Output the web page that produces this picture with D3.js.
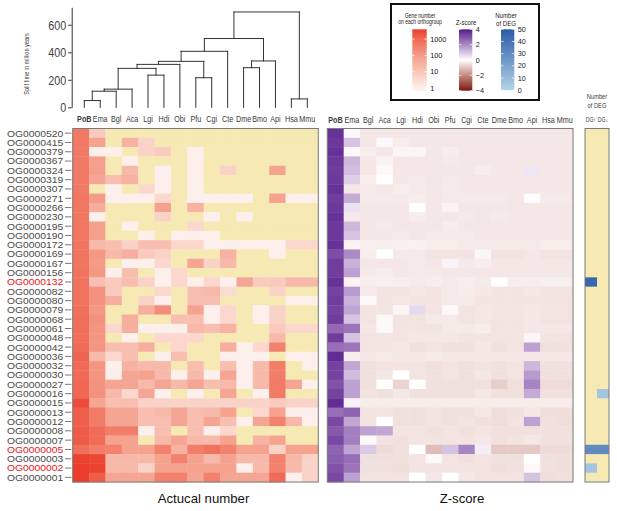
<!DOCTYPE html>
<html>
<head>
<meta charset="utf-8">
<script src="https://d3js.org/d3.v7.min.js"></script>
<style>
  body { margin: 0; background: #fff; }
  text { font-family: "Liberation Sans", Arial, sans-serif; }
</style>
</head>
<body>
<svg id="chart"></svg>
<script>
let w = 617;
let h = 511;

// ---- data ----
let species = ["PoB","Ema","Bgl","Aca","Lgi","Hdi","Obi","Pfu","Cgi","Cte","Dme","Bmo","Api","Hsa","Mmu"];

let orthogroups = ["OG0000520","OG0000415","OG0000379","OG0000367","OG0000324","OG0000319","OG0000307",
  "OG0000271","OG0000266","OG0000230","OG0000195","OG0000190","OG0000172","OG0000169","OG0000167",
  "OG0000156","OG0000132","OG0000082","OG0000080","OG0000079","OG0000068","OG0000061","OG0000048",
  "OG0000042","OG0000036","OG0000032","OG0000030","OG0000027","OG0000016","OG0000015","OG0000013",
  "OG0000012","OG0000008","OG0000007","OG0000005","OG0000003","OG0000002","OG0000001"];

let redGroups = ["OG0000132","OG0000005","OG0000002"];

// gene number per orthogroup (rows) and species (columns), 0 = absent
let geneCounts = [
  [500,8,0,0,0,0,0,0,0,0,0,0,0,0,0],
  [500,70,0,30,5,0,0,0,0,0,0,0,0,0,0],
  [500,1,1,0,5,8,0,1,0,0,0,0,0,0,0],
  [500,80,0,1,0,0,0,1,0,0,0,0,0,0,0],
  [500,80,0,20,0,1,0,1,0,5,0,0,70,0,0],
  [500,60,15,30,0,1,0,1,0,0,0,0,0,0,0],
  [500,0,1,0,4,1,0,1,0,0,0,0,0,0,0],
  [550,100,1,1,1,4,0,1,1,1,1,0,70,1,1],
  [550,40,0,0,0,70,0,30,0,0,0,0,0,0,0],
  [550,1,0,0,0,5,0,0,1,0,1,0,0,0,0],
  [550,80,0,1,0,0,0,4,0,0,0,0,0,0,0],
  [550,80,0,0,1,0,1,1,1,0,0,0,0,0,0],
  [600,20,15,5,15,15,4,4,1,1,1,1,1,4,4],
  [600,120,20,35,8,5,0,0,0,30,0,0,1,0,0],
  [600,100,0,1,1,4,0,60,5,20,0,0,0,0,0],
  [650,120,1,15,0,1,4,0,0,0,0,0,0,0,0],
  [650,15,8,15,5,1,4,1,4,1,60,8,8,20,20],
  [700,150,8,0,0,4,0,15,20,3,0,0,5,0,0],
  [700,150,35,0,5,1,0,15,15,0,0,0,0,1,1],
  [750,120,0,0,35,200,0,70,1,4,0,1,5,0,0],
  [800,150,0,35,0,0,15,15,1,4,0,1,5,0,0],
  [800,130,4,35,1,1,1,20,15,30,0,0,8,4,4],
  [850,130,0,1,0,4,4,4,0,0,0,0,20,0,0],
  [900,130,15,15,35,0,4,0,0,35,1,4,350,0,0],
  [1200,20,4,15,0,1,15,0,0,1,1,1,0,1,1],
  [1000,130,1,30,20,20,0,15,0,15,1,20,400,0,1],
  [1000,130,1,60,70,20,1,20,1,60,1,20,400,0,0],
  [1100,150,60,60,20,60,20,60,15,20,1,20,450,60,1],
  [1100,150,20,4,60,1,0,1,0,60,0,1,450,0,0],
  [2500,60,15,15,5,5,5,5,5,5,5,5,8,5,5],
  [1400,450,60,60,15,20,60,15,20,70,0,4,70,1,1],
  [1400,450,60,60,15,15,60,15,60,15,1,60,350,20,1],
  [1600,900,400,400,1,15,0,15,1,4,0,0,0,0,0],
  [1600,900,70,70,0,20,60,20,20,70,0,30,70,0,0],
  [800,400,350,70,70,350,30,400,700,350,70,70,5,70,70],
  [3500,3000,20,20,20,70,350,70,20,70,20,20,350,20,5],
  [4000,3500,20,20,5,70,70,70,70,70,1,20,350,20,5],
  [4000,1500,60,60,60,350,350,60,350,60,60,60,1000,1,5]
];

// z-score per orthogroup (rows) and species (columns)
let zScores = [
  [3.6,0.1,-0.4,-0.4,-0.4,-0.4,-0.4,-0.4,-0.4,-0.4,-0.4,-0.4,-0.4,-0.4,-0.4],
  [3.5,1.0,-0.4,0.1,-0.3,-0.4,-0.4,-0.4,-0.4,-0.4,-0.4,-0.4,-0.4,-0.4,-0.4],
  [3.6,-0.1,-0.3,-0.4,-0.15,-0.15,-0.4,-0.3,-0.4,-0.4,-0.4,-0.4,-0.4,-0.4,-0.4],
  [3.5,1.2,-0.4,-0.2,-0.4,-0.4,-0.4,-0.35,-0.4,-0.4,-0.4,-0.4,-0.4,-0.4,-0.4],
  [3.4,1.1,-0.4,-0.1,-0.4,-0.4,-0.4,-0.4,-0.4,-0.3,-0.4,-0.4,0.4,-0.4,-0.4],
  [3.5,0.8,-0.3,0.0,-0.4,-0.35,-0.4,-0.35,-0.4,-0.4,-0.4,-0.4,-0.4,-0.4,-0.4],
  [3.6,-0.4,-0.35,-0.4,-0.3,-0.35,-0.4,-0.35,-0.4,-0.4,-0.4,-0.4,-0.4,-0.4,-0.4],
  [3.4,1.4,-0.35,-0.35,-0.35,-0.3,-0.4,-0.35,-0.35,-0.35,-0.35,-0.4,0.05,-0.35,-0.35],
  [3.5,0.5,-0.4,-0.4,-0.4,0.0,-0.4,-0.2,-0.4,-0.4,-0.4,-0.4,-0.4,-0.4,-0.4],
  [3.6,-0.35,-0.4,-0.4,-0.4,-0.3,-0.4,-0.4,-0.35,-0.4,-0.35,-0.4,-0.4,-0.4,-0.4],
  [3.5,1.2,-0.4,-0.35,-0.4,-0.4,-0.4,-0.3,-0.4,-0.4,-0.4,-0.4,-0.4,-0.4,-0.4],
  [3.5,1.0,-0.4,-0.4,-0.35,-0.4,-0.35,-0.35,-0.35,-0.4,-0.4,-0.4,-0.4,-0.4,-0.4],
  [3.6,-0.2,-0.25,-0.3,-0.25,-0.25,-0.3,-0.3,-0.35,-0.35,-0.35,-0.35,-0.35,-0.3,-0.3],
  [3.1,2.0,-0.3,0.0,-0.35,-0.35,-0.45,-0.45,-0.45,-0.15,-0.45,-0.45,-0.4,-0.45,-0.45],
  [3.4,1.3,-0.4,-0.4,-0.4,-0.35,-0.4,0.2,-0.35,-0.3,-0.4,-0.4,-0.4,-0.4,-0.4],
  [3.4,1.6,-0.35,-0.3,-0.4,-0.35,-0.35,-0.4,-0.4,-0.4,-0.4,-0.4,-0.4,-0.4,-0.4],
  [3.6,-0.2,-0.3,-0.25,-0.3,-0.35,-0.3,-0.35,-0.3,-0.35,0.0,-0.3,-0.3,-0.25,-0.25],
  [3.3,1.7,-0.35,-0.45,-0.45,-0.4,-0.45,-0.35,-0.3,-0.4,-0.45,-0.45,-0.4,-0.45,-0.45],
  [3.4,1.3,-0.1,-0.45,-0.4,-0.45,-0.45,-0.35,-0.35,-0.45,-0.45,-0.45,-0.45,-0.45,-0.45],
  [3.3,1.5,-0.45,-0.45,-0.15,0.6,-0.45,-0.1,-0.45,-0.4,-0.45,-0.45,-0.4,-0.45,-0.45],
  [3.4,1.0,-0.45,-0.1,-0.45,-0.45,-0.35,-0.35,-0.45,-0.4,-0.45,-0.45,-0.4,-0.45,-0.45],
  [2.6,2.4,-0.4,-0.1,-0.45,-0.45,-0.45,-0.35,-0.35,-0.3,-0.45,-0.45,-0.4,-0.4,-0.4],
  [3.4,1.0,-0.45,-0.45,-0.45,-0.4,-0.4,-0.4,-0.45,-0.45,-0.45,-0.45,-0.15,-0.45,-0.45],
  [2.5,2.4,-0.45,-0.45,-0.4,-0.5,-0.45,-0.5,-0.5,-0.4,-0.5,-0.45,1.6,-0.5,-0.5],
  [3.7,-0.3,-0.4,-0.35,-0.4,-0.4,-0.35,-0.4,-0.4,-0.4,-0.4,-0.4,-0.4,-0.4,-0.4],
  [3.3,1.5,-0.5,-0.45,-0.45,-0.45,-0.5,-0.45,-0.5,-0.45,-0.5,-0.45,1.2,-0.5,-0.5],
  [3.3,1.1,-0.5,-0.4,0.0,-0.45,-0.5,-0.45,-0.5,-0.4,-0.5,-0.45,1.7,-0.5,-0.5],
  [3.0,1.6,-0.5,0.0,-0.7,0.0,-0.5,-0.5,-0.5,-0.5,-0.8,-0.5,2.1,-0.6,-0.6],
  [3.3,1.6,-0.45,-0.5,-0.4,-0.5,-0.5,-0.5,-0.5,-0.4,-0.5,-0.5,1.4,-0.5,-0.5],
  [3.7,0.2,-0.3,-0.3,-0.3,-0.3,-0.3,-0.3,-0.3,-0.3,-0.3,-0.3,-0.3,-0.3,-0.3],
  [2.5,2.7,-0.45,-0.45,-0.5,-0.5,-0.45,-0.5,-0.5,-0.4,-0.55,-0.5,-0.4,-0.55,-0.55],
  [3.2,1.5,-0.45,0.0,-0.5,-0.5,-0.45,-0.5,-0.45,-0.5,-0.55,-0.45,1.6,-0.5,-0.55],
  [2.9,2.2,1.6,1.5,-0.45,-0.45,-0.5,-0.45,-0.5,-0.45,-0.5,-0.5,-0.5,-0.5,-0.5],
  [3.2,2.2,-0.1,-0.45,-0.5,-0.45,-0.45,-0.45,-0.45,-0.4,-0.5,-0.45,-0.4,-0.5,-0.5],
  [2.7,1.5,0.9,-0.6,-0.5,0.0,-1.1,1.0,2.1,0.3,-0.9,-0.9,-0.9,-0.6,-0.6],
  [2.8,2.5,-0.5,-0.5,-0.5,-0.45,-0.1,-0.45,-0.5,-0.45,-0.5,-0.5,0.0,-0.5,-0.55],
  [3.0,2.4,-0.5,-0.5,-0.55,-0.45,-0.45,-0.45,-0.45,-0.45,-0.55,-0.5,-0.1,-0.5,-0.55],
  [3.2,1.6,-0.45,-0.45,-0.45,0.0,-0.4,0.0,-0.4,-0.45,-0.45,-0.45,1.0,-0.55,-0.5]
];

// number of DEG (up / down) per orthogroup
let degUp   = [0,0,0,0,0,0,0,0,0,0, 0,0,0,0,0,0,45,0,0,0, 0,0,0,0,0,0,0,0,0,0, 0,0,0,0,30,0,6,0];
let degDown = [0,0,0,0,0,0,0,0,0,0, 0,0,0,0,0,0,0,0,0,0, 0,0,0,0,0,0,0,0,6,0, 0,0,0,0,30,0,0,0];

// species tree, split times in million years
let splitTree = {h: 693, c: [
  {h: 500, c: [
    {h: 407, c: [
      {h: 334, c: [
        {h: 312, c: [
          {h: 283, c: [
            {h: 132, c: [{h: 117, c: [{h: 49, c: ["PoB", "Ema"]}, "Bgl"]}, "Aca"]},
            {h: 234, c: ["Lgi", "Hdi"]}
          ]},
          "Obi"
        ]},
        {h: 215, c: ["Pfu", "Cgi"]}
      ]},
      "Cte"
    ]},
    {h: 337, c: [{h: 288, c: ["Dme", "Bmo"]}, "Api"]}
  ]},
  {h: 61, c: ["Hsa", "Mmu"]}
]};

let timeTicks = [0, 200, 400, 600];
let countTicks = [1, 10, 100, 1000];
let zTicks = [-4, -2, 0, 2, 4];
let degTicks = [0, 10, 20, 30, 40, 50];

// ---- drawing ----
let yellow = "#f6e9b3";
let frameColor = "#7a7a7a";
let textColor = "#3a3a3a";
let squeeze = 0.8; // condensed look for small labels

let svg = d3.select("#chart").attr("width", w).attr("height", h);

let xCount = d3.scaleBand().domain(species).range([72.7, 318.3]);
let xZ = d3.scaleBand().domain(species).range([327.3, 573]);
let xDeg = d3.scaleBand().domain(["up", "down"]).range([585, 609]);
let yRow = d3.scaleBand().domain(orthogroups).range([128.5, 482]);
let xLeaf = d3.scalePoint().domain(species).range([84.3, 307.3]);
let yTime = d3.scaleLinear().domain([0, 727]).range([107.3, 7.3]);

let cCount = d3.scaleLog()
  .domain([1, 10, 100, 1000, 4000])
  .range(["#fdf0ec", "#f9c6b8", "#f49c88", "#f06a56", "#eb3d2b"])
  .clamp(true);
let cZ = d3.scaleLinear()
  .domain([-4, 0, 4])
  .range(["#7a1016", "#ffffff", "#551a8b"])
  .interpolate(d3.interpolateLab)
  .clamp(true);
let cDeg = d3.scaleLinear().domain([0, 50]).range(["#b3d3e8", "#2a5ba6"]);

function squeezedText(g, x, y, str, size, anchor) {
  return g.append("text")
    .attr("transform", `translate(${x},${y}) scale(${squeeze},1)`)
    .attr("text-anchor", anchor || "middle")
    .attr("font-size", size)
    .attr("fill", textColor)
    .text(str);
}

// cells as flat list
let countCells = [];
let zCells = [];
orthogroups.forEach((og, i) => {
  species.forEach((sp, j) => {
    countCells.push({og: og, sp: sp, v: geneCounts[i][j]});
    zCells.push({og: og, sp: sp, v: zScores[i][j]});
  });
});

// left heatmap: actual gene numbers
let countG = svg.append("g");
countG.selectAll("rect")
  .data(countCells)
  .enter()
  .append("rect")
  .attr("x", (d) => xCount(d.sp))
  .attr("y", (d) => yRow(d.og))
  .attr("width", xCount.bandwidth() + 0.4)
  .attr("height", yRow.bandwidth() + 0.4)
  .attr("fill", (d) => d.v > 0 ? cCount(d.v) : yellow);
countG.append("rect")
  .attr("x", 72.7).attr("y", 128.5)
  .attr("width", 318.3 - 72.7).attr("height", 482 - 128.5)
  .attr("fill", "none").attr("stroke", frameColor).attr("stroke-width", 1);

// middle heatmap: z-scores
let zG = svg.append("g");
zG.selectAll("rect")
  .data(zCells)
  .enter()
  .append("rect")
  .attr("x", (d) => xZ(d.sp))
  .attr("y", (d) => yRow(d.og))
  .attr("width", xZ.bandwidth() + 0.4)
  .attr("height", yRow.bandwidth() + 0.4)
  .attr("fill", (d) => cZ(d.v));
zG.append("rect")
  .attr("x", 327.3).attr("y", 128.5)
  .attr("width", 573 - 327.3).attr("height", 482 - 128.5)
  .attr("fill", "none").attr("stroke", frameColor).attr("stroke-width", 1);

// right column: number of DEG
let degCells = [];
orthogroups.forEach((og, i) => {
  degCells.push({og: og, k: "up", v: degUp[i]});
  degCells.push({og: og, k: "down", v: degDown[i]});
});
let degG = svg.append("g");
degG.append("rect")
  .attr("x", 585).attr("y", 128.5)
  .attr("width", 24).attr("height", 482 - 128.5)
  .attr("fill", yellow);
degG.selectAll("rect.deg")
  .data(degCells.filter((d) => d.v > 0))
  .enter()
  .append("rect")
  .attr("class", "deg")
  .attr("x", (d) => xDeg(d.k))
  .attr("y", (d) => yRow(d.og))
  .attr("width", xDeg.bandwidth())
  .attr("height", yRow.bandwidth())
  .attr("fill", (d) => cDeg(d.v));
degG.append("rect")
  .attr("x", 585).attr("y", 128.5)
  .attr("width", 24).attr("height", 482 - 128.5)
  .attr("fill", "none").attr("stroke", frameColor).attr("stroke-width", 1);

// row labels with small ticks (font kept close to row pitch, widened a little)
let rowG = svg.append("g");
rowG.selectAll("text")
  .data(orthogroups)
  .enter()
  .append("text")
  .attr("transform", (d) => `translate(63.3,${yRow(d) + yRow.bandwidth() / 2}) scale(1.1,1)`)
  .attr("dy", "0.36em")
  .attr("text-anchor", "end")
  .attr("font-size", 9.4)
  .attr("fill", (d) => redGroups.includes(d) ? "#e8141c" : "#4a4a4a")
  .text((d) => d);
rowG.selectAll("line")
  .data(orthogroups)
  .enter()
  .append("line")
  .attr("x1", 65).attr("x2", 71.5)
  .attr("y1", (d) => yRow(d) + yRow.bandwidth() / 2)
  .attr("y2", (d) => yRow(d) + yRow.bandwidth() / 2)
  .attr("stroke", "#555").attr("stroke-width", 0.8);

// column labels
let colG = svg.append("g");
species.forEach((sp) => {
  squeezedText(colG, xLeaf(sp), 121.5, sp, 9).attr("font-weight", sp === "PoB" ? "bold" : null);
  squeezedText(colG, xZ(sp) + xZ.bandwidth() / 2, 122.5, sp, 9).attr("font-weight", sp === "PoB" ? "bold" : null);
});

// dendrogram
let segs = [];
function placeNode(node) {
  if (typeof node === "string") return {x: xLeaf(node), h: 0};
  let kids = node.c.map(placeNode);
  let x = d3.mean(kids, (k) => k.x);
  kids.forEach((k) => segs.push([k.x, yTime(k.h), k.x, yTime(node.h)]));
  segs.push([kids[0].x, yTime(node.h), kids[kids.length - 1].x, yTime(node.h)]);
  return {x: x, h: node.h};
}
placeNode(splitTree);
svg.append("g").selectAll("line")
  .data(segs)
  .enter()
  .append("line")
  .attr("x1", (d) => d[0]).attr("y1", (d) => d[1])
  .attr("x2", (d) => d[2]).attr("y2", (d) => d[3])
  .attr("stroke", "#333").attr("stroke-width", 1)
  .attr("stroke-linecap", "square");

// time axis
let yAxis = d3.axisLeft(yTime).tickValues(timeTicks).tickSize(3.5).tickSizeOuter(0);
let axisG = svg.append("g").attr("transform", "translate(71.7,0)").call(yAxis);
axisG.select(".domain").attr("stroke", "#333");
axisG.selectAll(".tick line").attr("stroke", "#333");
axisG.selectAll(".tick text")
  .attr("font-family", "Liberation Sans, Arial, sans-serif")
  .attr("font-size", 13.5)
  .attr("fill", "#444")
  .attr("x", -5.5 / squeeze)
  .attr("transform", `scale(${squeeze},1)`);
svg.append("text")
  .attr("transform", `translate(28.5,64) rotate(-90) scale(${squeeze},1)`)
  .attr("text-anchor", "middle")
  .attr("font-size", 7)
  .attr("fill", textColor)
  .text("Split time in million years");

// DEG header
squeezedText(svg, 597, 99, "Number", 7.2);
squeezedText(svg, 597, 107.5, "of DEG", 7.2);
squeezedText(svg, xDeg("up") + 6, 121.5, "DG↑", 6.5);
squeezedText(svg, xDeg("down") + 6, 121.5, "DG↓", 6.5);

// bottom titles
svg.append("text").attr("x", 203.5).attr("y", 502.5).attr("text-anchor", "middle")
  .attr("font-size", 13.2).attr("fill", "#111").text("Actucal number");
svg.append("text").attr("x", 462).attr("y", 502.5).attr("text-anchor", "middle")
  .attr("font-size", 13.2).attr("fill", "#111").text("Z-score");

// ---- legends ----
let legG = svg.append("g");
legG.append("rect")
  .attr("x", 391).attr("y", 4).attr("width", 148).attr("height", 96)
  .attr("fill", "#fff").attr("stroke", "#111").attr("stroke-width", 2);

let defs = svg.append("defs");
function colourBar(id, x, bw, scale, colour, ticks, fmt) {
  let grad = defs.append("linearGradient").attr("id", id)
    .attr("x1", 0).attr("y1", 1).attr("x2", 0).attr("y2", 0);
  let d0 = scale.domain()[0], d1 = scale.domain()[1];
  d3.range(0, 1.0001, 0.05).forEach((t) => {
    let v = scale.invert(scale(d0) + t * (scale(d1) - scale(d0)));
    grad.append("stop").attr("offset", t).attr("stop-color", colour(v));
  });
  let top = Math.min(scale(d0), scale(d1)), bot = Math.max(scale(d0), scale(d1));
  legG.append("rect").attr("x", x).attr("y", top).attr("width", bw).attr("height", bot - top)
    .attr("fill", `url(#${id})`);
  ticks.forEach((t) => {
    let y = scale(t);
    legG.append("line").attr("x1", x).attr("x2", x + 2.5).attr("y1", y).attr("y2", y)
      .attr("stroke", "#fff").attr("stroke-width", 0.7);
    legG.append("line").attr("x1", x + bw - 2.5).attr("x2", x + bw).attr("y1", y).attr("y2", y)
      .attr("stroke", "#fff").attr("stroke-width", 0.7);
    legG.append("text").attr("x", x + bw + 3.5).attr("y", y).attr("dy", "0.35em")
      .attr("font-size", 7.3).attr("fill", "#222").text(fmt(t));
  });
}

let yCountLeg = d3.scaleLog().domain([0.7, 4000]).range([90.7, 29.3]);
let yZLeg = d3.scaleLinear().domain([-4, 4]).range([90.7, 29.3]);
let yDegLeg = d3.scaleLinear().domain([0, 50]).range([90.2, 29.3]);

colourBar("gradCount", 412.3, 14.4, yCountLeg, cCount, countTicks, (d) => d);
colourBar("gradZ", 459, 13.3, yZLeg, cZ, zTicks, (d) => d < 0 ? "\u2212" + Math.abs(d) : d);
colourBar("gradDeg", 501, 13.3, yDegLeg, (v) => cDeg(Math.max(0, v)), degTicks, (d) => d);

squeezedText(legG, 420, 17.5, "Gene number", 6.3).attr("fill", "#222");
squeezedText(legG, 420, 24, "on each orthogroup", 6.3).attr("fill", "#222");
squeezedText(legG, 466, 25.2, "Z-score", 7.6).attr("fill", "#222");
squeezedText(legG, 506, 17.5, "Number", 7.6).attr("fill", "#222");
squeezedText(legG, 506, 25.5, "of DEG", 7.6).attr("fill", "#222");
</script>
</body>
</html>
